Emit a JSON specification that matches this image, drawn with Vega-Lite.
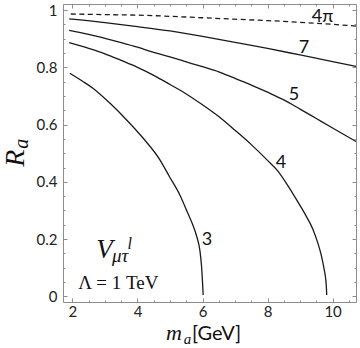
{
  "$schema": "https://vega.github.io/schema/vega-lite/v6.json",
  "width": 293,
  "height": 298,
  "autosize": {"type": "none"},
  "padding": {"left": 63, "top": 4, "right": 4, "bottom": 46},
  "background": "white",
  "config": {
    "view": {"stroke": "#8c8c8c", "strokeWidth": 1},
    "axis": {
      "domain": false,
      "grid": false,
      "labelFont": "Lato",
      "labelFontSize": 15,
      "labelColor": "#222222",
      "tickColor": "#8c8c8c",
      "tickWidth": 1,
      "labelOverlap": false,
      "labelFlush": false
    }
  },
  "datasets": {
    "curves": [
      {"series": "4π", "m": 1.95, "R": 0.986}, {"series": "4π", "m": 3, "R": 0.984}, {"series": "4π", "m": 4, "R": 0.982}, {"series": "4π", "m": 5, "R": 0.978}, {"series": "4π", "m": 6, "R": 0.973}, {"series": "4π", "m": 7, "R": 0.968}, {"series": "4π", "m": 8, "R": 0.963}, {"series": "4π", "m": 9, "R": 0.957}, {"series": "4π", "m": 10, "R": 0.950}, {"series": "4π", "m": 10.72, "R": 0.944},
      {"series": "7", "m": 1.9, "R": 0.969}, {"series": "7", "m": 3, "R": 0.956}, {"series": "7", "m": 4, "R": 0.942}, {"series": "7", "m": 5, "R": 0.927}, {"series": "7", "m": 6, "R": 0.908}, {"series": "7", "m": 7, "R": 0.887}, {"series": "7", "m": 8, "R": 0.866}, {"series": "7", "m": 9, "R": 0.843}, {"series": "7", "m": 10, "R": 0.820}, {"series": "7", "m": 10.72, "R": 0.803},
      {"series": "5", "m": 1.9, "R": 0.929}, {"series": "5", "m": 2.5, "R": 0.915}, {"series": "5", "m": 3, "R": 0.901}, {"series": "5", "m": 3.5, "R": 0.886}, {"series": "5", "m": 4, "R": 0.870}, {"series": "5", "m": 4.5, "R": 0.852}, {"series": "5", "m": 5, "R": 0.836}, {"series": "5", "m": 5.5, "R": 0.819}, {"series": "5", "m": 6, "R": 0.802}, {"series": "5", "m": 6.5, "R": 0.784}, {"series": "5", "m": 7, "R": 0.761}, {"series": "5", "m": 7.5, "R": 0.738}, {"series": "5", "m": 8, "R": 0.713}, {"series": "5", "m": 8.5, "R": 0.686}, {"series": "5", "m": 9, "R": 0.654}, {"series": "5", "m": 9.5, "R": 0.621}, {"series": "5", "m": 10, "R": 0.588}, {"series": "5", "m": 10.72, "R": 0.541},
      {"series": "4", "m": 1.9, "R": 0.886}, {"series": "4", "m": 2.5, "R": 0.866}, {"series": "4", "m": 3, "R": 0.847}, {"series": "4", "m": 3.5, "R": 0.824}, {"series": "4", "m": 4, "R": 0.800}, {"series": "4", "m": 4.5, "R": 0.772}, {"series": "4", "m": 5, "R": 0.740}, {"series": "4", "m": 5.5, "R": 0.707}, {"series": "4", "m": 6, "R": 0.669}, {"series": "4", "m": 6.5, "R": 0.628}, {"series": "4", "m": 7, "R": 0.580}, {"series": "4", "m": 7.5, "R": 0.530}, {"series": "4", "m": 8, "R": 0.475}, {"series": "4", "m": 8.3, "R": 0.440}, {"series": "4", "m": 8.6, "R": 0.391}, {"series": "4", "m": 8.9, "R": 0.336}, {"series": "4", "m": 9.15, "R": 0.288}, {"series": "4", "m": 9.4, "R": 0.233}, {"series": "4", "m": 9.55, "R": 0.185}, {"series": "4", "m": 9.66, "R": 0.140}, {"series": "4", "m": 9.74, "R": 0.095}, {"series": "4", "m": 9.79, "R": 0.059}, {"series": "4", "m": 9.81, "R": 0.030}, {"series": "4", "m": 9.82, "R": 0.005},
      {"series": "3", "m": 1.92, "R": 0.779}, {"series": "3", "m": 2.3, "R": 0.752}, {"series": "3", "m": 2.63, "R": 0.727}, {"series": "3", "m": 3.15, "R": 0.675}, {"series": "3", "m": 3.66, "R": 0.617}, {"series": "3", "m": 4.17, "R": 0.553}, {"series": "3", "m": 4.69, "R": 0.477}, {"series": "3", "m": 4.99, "R": 0.417}, {"series": "3", "m": 5.3, "R": 0.355}, {"series": "3", "m": 5.55, "R": 0.290}, {"series": "3", "m": 5.7, "R": 0.250}, {"series": "3", "m": 5.82, "R": 0.210}, {"series": "3", "m": 5.92, "R": 0.160}, {"series": "3", "m": 5.97, "R": 0.106}, {"series": "3", "m": 6.0, "R": 0.050}, {"series": "3", "m": 6.02, "R": 0.005}
    ],
    "curveLabels": [
      {"label": "4π", "m": 9.69, "R": 0.959},
      {"label": "7", "m": 9.121, "R": 0.850},
      {"label": "5", "m": 8.814, "R": 0.686},
      {"label": "4", "m": 8.414, "R": 0.447},
      {"label": "3", "m": 6.138, "R": 0.180}
    ],
    "notes": [
      {"kind": "V", "text": "V", "m": 2.99, "R": 0.134},
      {"kind": "sup", "text": "l", "m": 3.76, "R": 0.166},
      {"kind": "sub", "text": "μτ", "m": 3.47, "R": 0.12},
      {"kind": "lambda", "text": "Λ = 1 TeV", "m": 3.411, "R": 0.025},
      {"kind": "xm", "text": "m", "m": 5.123, "R": -0.152},
      {"kind": "xa", "text": "a", "m": 5.539, "R": -0.166},
      {"kind": "xunit", "text": "[GeV]", "m": 5.677, "R": -0.152},
      {"kind": "yR", "text": "R", "m": 0.265, "R": 0.483},
      {"kind": "ya", "text": "a", "m": 0.44, "R": 0.533}
    ]
  },
  "layer": [
    {
      "data": {"name": "curves"},
      "transform": [{"filter": "datum.series !== '4π'"}],
      "mark": {"type": "line", "color": "#1a1a1a", "strokeWidth": 1.3, "interpolate": "monotone"},
      "encoding": {
        "x": {"field": "m", "type": "quantitative", "scale": {"domain": [1.71, 10.72], "nice": false, "zero": false},
          "axis": {"orient": "bottom", "title": null, "values": [2, 2.5, 3, 3.5, 4, 4.5, 5, 5.5, 6, 6.5, 7, 7.5, 8, 8.5, 9, 9.5, 10, 10.5], "format": "~g",
            "labelExpr": "datum.value % 2 === 0 ? datum.label : ''",
            "tickSize": {"condition": {"test": "datum.value % 2 === 0", "value": -4}, "value": -2},
            "labelPadding": 6}},
        "y": {"field": "R", "type": "quantitative", "scale": {"domain": [-0.0195, 1.021], "nice": false, "zero": false},
          "axis": {"orient": "left", "title": null, "values": [0, 0.05, 0.1, 0.15, 0.2, 0.25, 0.3, 0.35, 0.4, 0.45, 0.5, 0.55, 0.6, 0.65, 0.7, 0.75, 0.8, 0.85, 0.9, 0.95, 1], "format": "~g",
            "labelExpr": "abs(datum.value * 5 - round(datum.value * 5)) < 0.000001 ? datum.label : ''",
            "tickSize": {"condition": {"test": "abs(datum.value * 5 - round(datum.value * 5)) < 0.000001", "value": -4}, "value": -2},
            "labelPadding": 10}},
        "detail": {"field": "series"}
      }
    },
    {
      "data": {"name": "curves"},
      "transform": [{"filter": "datum.series === '4π'"}],
      "mark": {"type": "line", "color": "#1a1a1a", "strokeWidth": 1.3, "strokeDash": [5, 3.5], "interpolate": "monotone"},
      "encoding": {
        "x": {"field": "m", "type": "quantitative", "scale": {"domain": [1.71, 10.72], "nice": false, "zero": false},
          "axis": {"orient": "top", "title": null, "labels": false, "values": [2, 2.5, 3, 3.5, 4, 4.5, 5, 5.5, 6, 6.5, 7, 7.5, 8, 8.5, 9, 9.5, 10, 10.5],
            "tickSize": {"condition": {"test": "datum.value % 2 === 0", "value": -4}, "value": -2}}},
        "y": {"field": "R", "type": "quantitative", "scale": {"domain": [-0.0195, 1.021], "nice": false, "zero": false},
          "axis": {"orient": "right", "title": null, "labels": false, "values": [0, 0.05, 0.1, 0.15, 0.2, 0.25, 0.3, 0.35, 0.4, 0.45, 0.5, 0.55, 0.6, 0.65, 0.7, 0.75, 0.8, 0.85, 0.9, 0.95, 1],
            "tickSize": {"condition": {"test": "abs(datum.value * 5 - round(datum.value * 5)) < 0.000001", "value": -4}, "value": -2}}}
      }
    },
    {
      "data": {"name": "curveLabels"},
      "mark": {"type": "text", "font": "Lato", "fontSize": 18, "color": "#111111", "align": "center", "baseline": "alphabetic"},
      "encoding": {
        "x": {"field": "m", "type": "quantitative", "axis": null},
        "y": {"field": "R", "type": "quantitative", "axis": null},
        "text": {"field": "label"}
      }
    },
    {
      "data": {"name": "notes"},
      "transform": [{"filter": "datum.kind === 'V'"}],
      "mark": {"type": "text", "font": "Liberation Serif", "fontStyle": "italic", "fontSize": 27, "color": "#111111", "align": "center", "baseline": "alphabetic"},
      "encoding": {"x": {"field": "m", "type": "quantitative", "axis": null}, "y": {"field": "R", "type": "quantitative", "axis": null}, "text": {"field": "text"}}
    },
    {
      "data": {"name": "notes"},
      "transform": [{"filter": "datum.kind === 'sup'"}],
      "mark": {"type": "text", "font": "Liberation Serif", "fontStyle": "italic", "fontSize": 16, "color": "#111111", "align": "center", "baseline": "alphabetic"},
      "encoding": {"x": {"field": "m", "type": "quantitative", "axis": null}, "y": {"field": "R", "type": "quantitative", "axis": null}, "text": {"field": "text"}}
    },
    {
      "data": {"name": "notes"},
      "transform": [{"filter": "datum.kind === 'sub'"}],
      "mark": {"type": "text", "font": "Liberation Serif", "fontStyle": "italic", "fontSize": 19, "color": "#111111", "align": "center", "baseline": "alphabetic"},
      "encoding": {"x": {"field": "m", "type": "quantitative", "axis": null}, "y": {"field": "R", "type": "quantitative", "axis": null}, "text": {"field": "text"}}
    },
    {
      "data": {"name": "notes"},
      "transform": [{"filter": "datum.kind === 'lambda'"}],
      "mark": {"type": "text", "font": "Liberation Serif", "fontSize": 19, "color": "#111111", "align": "center", "baseline": "alphabetic"},
      "encoding": {"x": {"field": "m", "type": "quantitative", "axis": null}, "y": {"field": "R", "type": "quantitative", "axis": null}, "text": {"field": "text"}}
    },
    {
      "data": {"name": "notes"},
      "transform": [{"filter": "datum.kind === 'xm'"}],
      "mark": {"type": "text", "font": "Liberation Serif", "fontStyle": "italic", "fontSize": 22, "color": "#111111", "align": "center", "baseline": "alphabetic"},
      "encoding": {"x": {"field": "m", "type": "quantitative", "axis": null}, "y": {"field": "R", "type": "quantitative", "axis": null}, "text": {"field": "text"}}
    },
    {
      "data": {"name": "notes"},
      "transform": [{"filter": "datum.kind === 'xa'"}],
      "mark": {"type": "text", "font": "Liberation Serif", "fontStyle": "italic", "fontSize": 15, "color": "#111111", "align": "center", "baseline": "alphabetic"},
      "encoding": {"x": {"field": "m", "type": "quantitative", "axis": null}, "y": {"field": "R", "type": "quantitative", "axis": null}, "text": {"field": "text"}}
    },
    {
      "data": {"name": "notes"},
      "transform": [{"filter": "datum.kind === 'xunit'"}],
      "mark": {"type": "text", "font": "Lato", "fontSize": 20, "color": "#111111", "align": "left", "baseline": "alphabetic"},
      "encoding": {"x": {"field": "m", "type": "quantitative", "axis": null}, "y": {"field": "R", "type": "quantitative", "axis": null}, "text": {"field": "text"}}
    },
    {
      "data": {"name": "notes"},
      "transform": [{"filter": "datum.kind === 'yR'"}],
      "mark": {"type": "text", "font": "Liberation Serif", "fontStyle": "italic", "fontSize": 28, "color": "#111111", "align": "center", "baseline": "middle", "angle": 270},
      "encoding": {"x": {"field": "m", "type": "quantitative", "axis": null}, "y": {"field": "R", "type": "quantitative", "axis": null}, "text": {"field": "text"}}
    },
    {
      "data": {"name": "notes"},
      "transform": [{"filter": "datum.kind === 'ya'"}],
      "mark": {"type": "text", "font": "Liberation Serif", "fontStyle": "italic", "fontSize": 20, "color": "#111111", "align": "center", "baseline": "middle", "angle": 270},
      "encoding": {"x": {"field": "m", "type": "quantitative", "axis": null}, "y": {"field": "R", "type": "quantitative", "axis": null}, "text": {"field": "text"}}
    }
  ],
  "resolve": {"axis": {"x": "independent", "y": "independent"}}
}
